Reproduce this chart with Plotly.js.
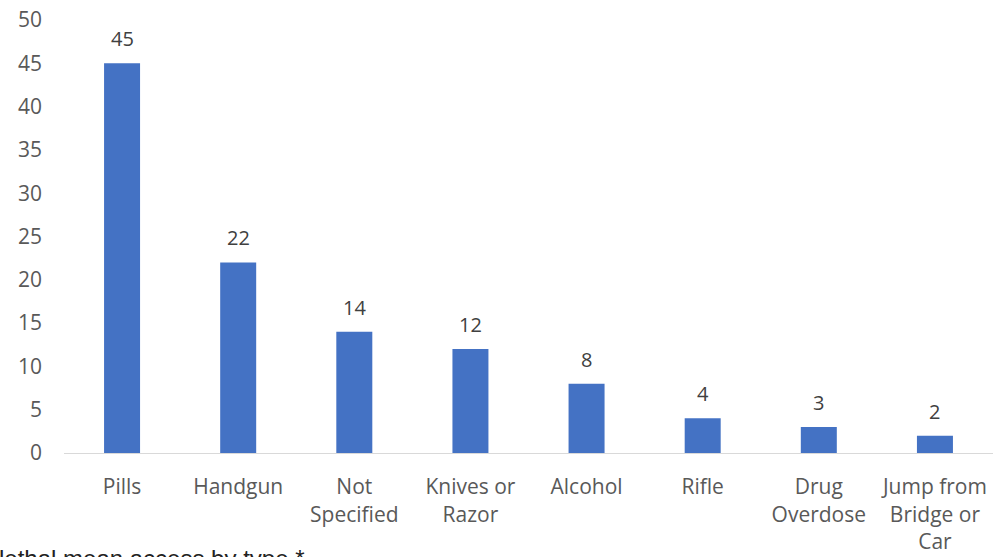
<!DOCTYPE html>
<html>
<head>
<meta charset="utf-8">
<script src="https://cdn.plot.ly/plotly-3.0.1.min.js"></script>
<style>html,body{margin:0;padding:0;background:#fff;}#chart{width:995px;height:557px;}</style>
</head>
<body>
<div id="chart"></div>
<script>
const categories = ["Pills", "Handgun", "Not<br>Specified", "Knives or<br>Razor", "Alcohol", "Rifle", "Drug<br>Overdose", "Jump from<br>Bridge or<br>Car"];
const counts = [45, 22, 14, 12, 8, 4, 3, 2];
const yTicks = [0, 5, 10, 15, 20, 25, 30, 35, 40, 45, 50];
const caption = "lethal mean access by type *";

const font = "'Open Sans', 'Noto Sans', sans-serif";
const valueLabels = categories.map((c, i) => ({
  x: c, y: counts[i], xref: 'x', yref: 'y',
  text: String(counts[i]), showarrow: false,
  yanchor: 'bottom', yshift: 9,
  font: {family: font, size: 20, color: '#404040'}
}));

Plotly.newPlot('chart', [{
  type: 'bar',
  x: categories,
  y: counts,
  marker: {color: '#4472C4'},
  hoverinfo: 'none'
}], {
  width: 995, height: 557,
  margin: {l: 64, r: 2, t: 20, b: 104},
  paper_bgcolor: '#fff', plot_bgcolor: '#fff',
  bargap: 0.69,
  showlegend: false,
  xaxis: {
    tickfont: {family: font, size: 21, color: '#595959'},
    showline: true, linecolor: '#d9d9d9', linewidth: 1,
    ticks: '', showgrid: false, zeroline: false, fixedrange: true,
    ticklabelstandoff: 15
  },
  yaxis: {
    range: [0, 50], tickvals: yTicks, ticktext: yTicks.map(String),
    tickfont: {family: font, size: 21, color: '#595959'},
    showgrid: false, zeroline: false, showline: false, ticks: '',
    ticklabelstandoff: 21, fixedrange: true
  },
  annotations: valueLabels.concat([{
    text: caption, xref: 'paper', yref: 'paper',
    x: 0, xshift: -67, y: 0, yshift: -90, yanchor: 'top', xanchor: 'left',
    showarrow: false, font: {family: 'Liberation Sans, Arial, sans-serif', size: 24, color: '#222'}
  }])
}, {displayModeBar: false, staticPlot: true});
</script>
</body>
</html>
